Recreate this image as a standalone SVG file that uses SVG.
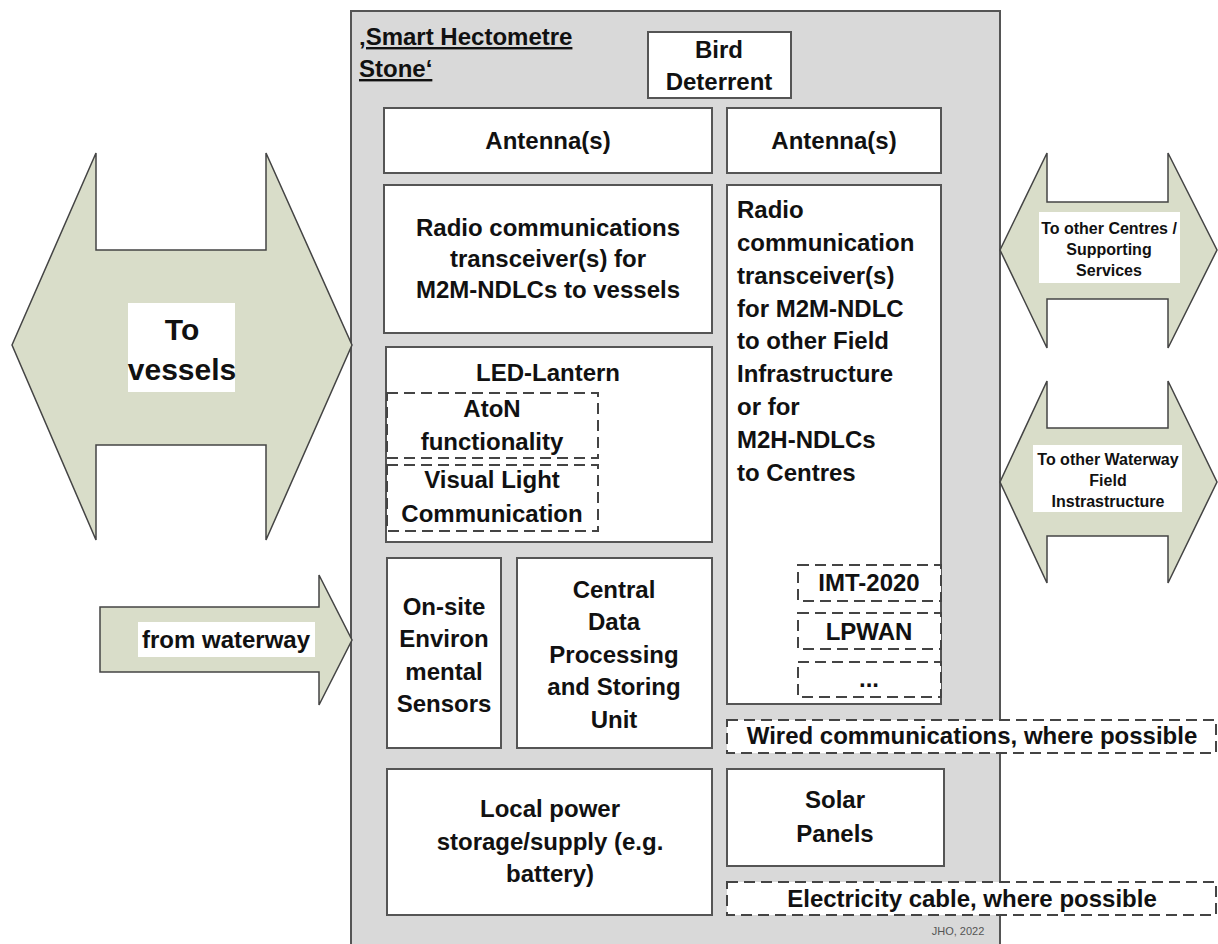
<svg xmlns="http://www.w3.org/2000/svg" width="1218" height="944" viewBox="0 0 1218 944">
<style>
  .box{fill:#fff;stroke:#555;stroke-width:2}
  .dash{fill:#fff;stroke:#444;stroke-width:2;stroke-dasharray:11 6}
  .arrow{fill:#d9ddc9;stroke:#444;stroke-width:1.5;stroke-linejoin:miter}
  .lbl{fill:#fff;stroke:none}
  text{font-family:"Liberation Sans",Arial,sans-serif;font-weight:bold;fill:#111;font-size:24px}
  .c{text-anchor:middle}
  .s16{font-size:16px}
  .s30{font-size:30px}
</style>
<rect width="1218" height="944" fill="#fff"/>
<g id="stone">
  <rect x="351" y="11" width="649" height="945" fill="#d9d9d9" stroke="#555" stroke-width="2"/>
  <text x="359" y="45" text-decoration="underline">‚Smart Hectometre</text>
  <text x="359" y="77" text-decoration="underline">Stone‘</text>
  <text x="958" y="935" style="font-size:11px;font-weight:normal;fill:#555" text-anchor="middle">JHO, 2022</text>
</g>
<g id="bird-deterrent">
  <rect class="box" x="648" y="32" width="143" height="66"/>
  <text class="c" x="719" y="58">Bird</text>
  <text class="c" x="719" y="90">Deterrent</text>
</g>
<g id="antenna-left">
  <rect class="box" x="384" y="108" width="328" height="65"/>
  <text class="c" x="548" y="149">Antenna(s)</text>
</g>
<g id="antenna-right">
  <rect class="box" x="727" y="108" width="214" height="65"/>
  <text class="c" x="834" y="149">Antenna(s)</text>
</g>
<g id="radio-vessels">
  <rect class="box" x="384" y="185" width="328" height="148"/>
  <text class="c" x="548" y="236">Radio communications</text>
  <text class="c" x="548" y="267">transceiver(s) for</text>
  <text class="c" x="548" y="298">M2M-NDLCs to vessels</text>
</g>
<g id="radio-field">
  <rect class="box" x="727" y="185" width="214" height="519"/>
  <text x="737" y="218">Radio</text>
  <text x="737" y="251">communication</text>
  <text x="737" y="284">transceiver(s)</text>
  <text x="737" y="317">for M2M-NDLC</text>
  <text x="737" y="349">to other Field</text>
  <text x="737" y="382">Infrastructure</text>
  <text x="737" y="415">or for</text>
  <text x="737" y="448">M2H-NDLCs</text>
  <text x="737" y="481">to Centres</text>
</g>
<g id="imt-2020">
  <rect class="dash" x="798" y="565" width="143" height="36"/>
  <text class="c" x="869" y="591">IMT-2020</text>
</g>
<g id="lpwan">
  <rect class="dash" x="798" y="613" width="143" height="36"/>
  <text class="c" x="869" y="640">LPWAN</text>
</g>
<g id="more">
  <rect class="dash" x="798" y="662" width="143" height="35"/>
  <text class="c" x="869" y="687">...</text>
</g>
<g id="led-lantern">
  <rect class="box" x="386" y="347" width="326" height="195"/>
  <text class="c" x="548" y="381">LED-Lantern</text>
</g>
<g id="aton">
  <rect class="dash" x="387" y="393" width="211" height="65"/>
  <text class="c" x="492" y="417">AtoN</text>
  <text class="c" x="492" y="450">functionality</text>
</g>
<g id="vlc">
  <rect class="dash" x="387" y="465" width="211" height="66"/>
  <text class="c" x="492" y="488">Visual Light</text>
  <text class="c" x="492" y="522">Communication</text>
</g>
<g id="sensors">
  <rect class="box" x="387" y="558" width="114" height="190"/>
  <text class="c" x="444" y="615">On-site</text>
  <text class="c" x="444" y="647">Environ</text>
  <text class="c" x="444" y="680">mental</text>
  <text class="c" x="444" y="712">Sensors</text>
</g>
<g id="cpu">
  <rect class="box" x="517" y="558" width="195" height="190"/>
  <text class="c" x="614" y="598">Central</text>
  <text class="c" x="614" y="630">Data</text>
  <text class="c" x="614" y="663">Processing</text>
  <text class="c" x="614" y="695">and Storing</text>
  <text class="c" x="614" y="728">Unit</text>
</g>
<g id="wired">
  <rect class="dash" x="727" y="720" width="489" height="33"/>
  <text class="c" x="972" y="744">Wired communications, where possible</text>
</g>
<g id="power">
  <rect class="box" x="387" y="769" width="325" height="146"/>
  <text class="c" x="550" y="817">Local power</text>
  <text class="c" x="550" y="850">storage/supply (e.g.</text>
  <text class="c" x="550" y="882">battery)</text>
</g>
<g id="solar">
  <rect class="box" x="727" y="769" width="217" height="97"/>
  <text class="c" x="835" y="808">Solar</text>
  <text class="c" x="835" y="842">Panels</text>
</g>
<g id="electricity">
  <rect class="dash" x="727" y="882" width="489" height="33"/>
  <text class="c" x="972" y="907">Electricity cable, where possible</text>
</g>
<g id="connectors">
  <g id="to-vessels">
    <polygon class="arrow" points="12,345 96,153 96,250 266,250 266,153 352,345 266,540 266,445 96,445 96,540"/>
    <rect class="lbl" x="128" y="303" width="107" height="89"/>
    <text class="c s30" x="182" y="340">To</text>
    <text class="c s30" x="182" y="380">vessels</text>
  </g>
  <g id="from-waterway">
    <polygon class="arrow" points="100,607 319,607 319,575 352,640 319,705 319,672 100,672"/>
    <rect class="lbl" x="138" y="622" width="177" height="35"/>
    <text class="c" x="226" y="648">from waterway</text>
  </g>
  <g id="to-centres">
    <polygon class="arrow" points="1000,250 1047,153 1047,202 1168,202 1168,153 1217,250 1168,348 1168,299 1047,299 1047,348"/>
    <rect class="lbl" x="1039" y="212" width="141" height="71"/>
    <text class="c s16" x="1109" y="234">To other Centres /</text>
    <text class="c s16" x="1109" y="255">Supporting</text>
    <text class="c s16" x="1109" y="276">Services</text>
  </g>
  <g id="to-field">
    <polygon class="arrow" points="1000,482 1047,381 1047,428 1168,428 1168,381 1217,482 1168,583 1168,536 1047,536 1047,583"/>
    <rect class="lbl" x="1033" y="445" width="149" height="67"/>
    <text class="c s16" x="1108" y="465">To other Waterway</text>
    <text class="c s16" x="1108" y="486">Field</text>
    <text class="c s16" x="1108" y="507">Instrastructure</text>
  </g>
</g>
</svg>
